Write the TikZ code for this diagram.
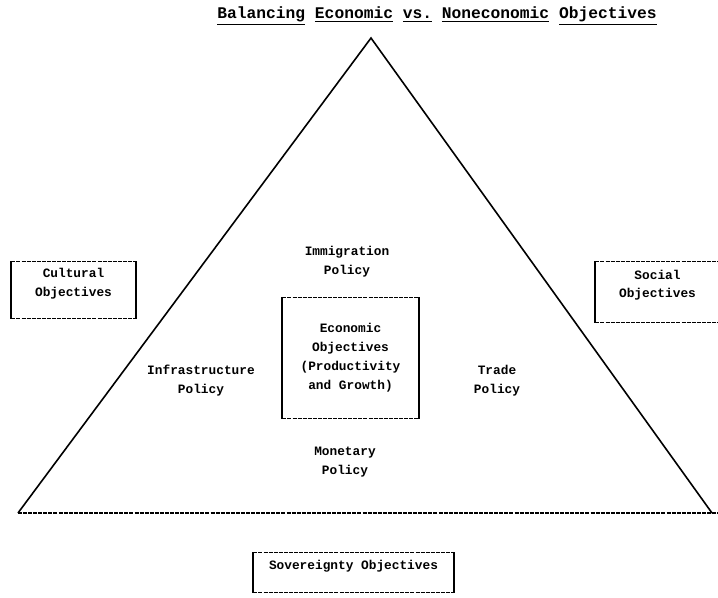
\documentclass[tikz,border=0pt]{standalone}
\usepackage{fontspec}
\setmainfont{Liberation Mono}
\usetikzlibrary{positioning}

\begin{document}
\begin{tikzpicture}[
            x=0.75pt, y=-0.75pt,
            line width=1.2pt,
            boxdash/.style={line width=1pt, dash pattern=on 3pt off 0.8pt},
            boxside/.style={line width=1.5pt, solid},
            txt/.style={font=\bfseries\fontsize{9.6}{14.2}\selectfont, align=center},
            objbox/.style 2 args={minimum width=#1, minimum height=#2, inner sep=0pt}
        ]
        \useasboundingbox (0, 0) rectangle (718, 597);

        % title
        \node (title) at (437, 16) [font=\bfseries\fontsize{12.2}{14}\selectfont]
            {\underline{Balancing} \underline{Economic} \underline{vs.} \underline{Noneconomic} \underline{Objectives}};

        % triangle
        \coordinate (apex) at (371, 38);
        \coordinate (left) at (18, 513);
        \coordinate (right) at (712, 513);
        \draw (left) -- (apex) -- (right);
        \draw[boxdash] (left) -- (718, 513);

        % objective boxes
        \node (cultural) at (73.5, 290) [objbox={92pt}{42pt}] {};
        \node (social) at (657.5, 292) [objbox={92pt}{45pt}] {};
        \node (economic) at (350.5, 358) [objbox={101pt}{90pt}] {};
        \node (sovereignty) at (353.5, 572.5) [objbox={149pt}{29pt}] {};
        \foreach \n in {cultural, social, economic, sovereignty} {
            \draw[boxdash] (\n.north west) -- (\n.north east) (\n.south west) -- (\n.south east);
            \draw[boxside] (\n.north west) -- (\n.south west);
            \draw[boxside] (\n.north east) -- (\n.south east);
        }

        \node (culturaltxt) [txt, below=1.5pt of cultural.north] {Cultural\\Objectives};
        \node (socialtxt) [txt, below=2.5pt of social.north] {Social\\Objectives};
        \node (economictxt) at (economic) [txt] {Economic\\Objectives\\(Productivity\\and Growth)};
        \node (sovereigntytxt) [txt, below=2pt of sovereignty.north] {Sovereignty Objectives};

        % policies
        \node (immigration) at (347, 262) [txt] {Immigration\\Policy};
        \node (infrastructure) at (201, 381) [txt] {Infrastructure\\Policy};
        \node (trade) at (497, 381) [txt] {Trade\\Policy};
        \node (monetary) at (345, 462) [txt] {Monetary\\Policy};
    \end{tikzpicture}
\end{document}
